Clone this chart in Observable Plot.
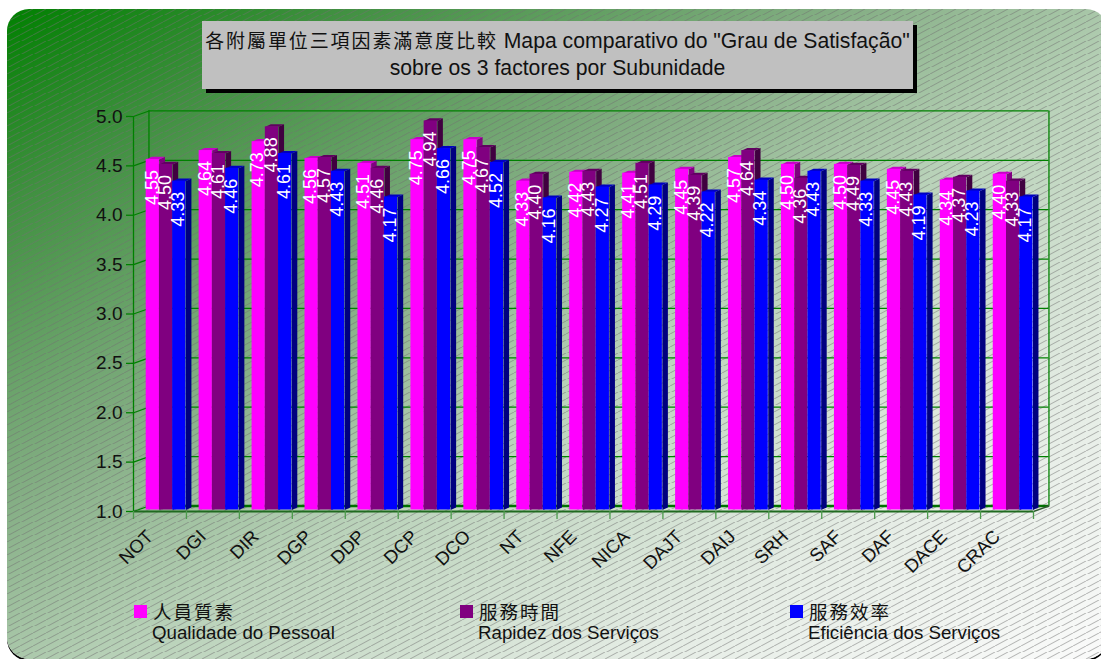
<!DOCTYPE html>
<html>
<head>
<meta charset="utf-8">
<script src="https://cdn.jsdelivr.net/npm/d3@7"></script>
<script src="https://cdn.jsdelivr.net/npm/@observablehq/plot@0.6"></script>
<style>
  html, body { margin: 0; padding: 0; background: #fff; }
  #stage { position: relative; width: 1101px; height: 659px; overflow: hidden; background: #fff;
           font-family: "Liberation Sans", Arial, sans-serif; color: #111; }
  #panel { position: absolute; left: 7px; top: 9px; width: 1101px; height: 650px; border-radius: 22px;
           box-shadow: 0 2px 0 #000;
           background:
             url("data:image/svg+xml,%3Csvg xmlns='http://www.w3.org/2000/svg' width='13' height='6.5'%3E%3Cg stroke='%23707070' stroke-opacity='.5' stroke-width='.95'%3E%3Cpath d='M0 6.5L13 0M13 6.5L26 0M-13 6.5L0 0'/%3E%3C/g%3E%3C/svg%3E") 0 0 / 13px 6.5px,
             linear-gradient(to bottom right, #008000 0%, #409040 15%, #84ae84 38%, #b9d2b9 55%, #e4ece4 78%, #fbfbfb 100%); }
  #chart { position: absolute; left: 0; top: 0; }
  #chart svg { display: block; background: transparent; }
  #title { position: absolute; left: 202px; top: 21px; width: 711px; height: 68px; background: #c0c0c0;
           box-shadow: 4px 4px 0 #000; text-align: center; font-size: 21.2px; line-height: 27px;
           padding-top: 5px; box-sizing: border-box; white-space: nowrap; }
  .cjk { font-family: "Noto Sans CJK TC", sans-serif; }
  #title .cjk { letter-spacing: 1.9px; font-size: 19px; }
  .key { position: absolute; top: 599px; }
  .key i { position: absolute; left: 0; top: 6px; width: 13px; height: 13px; }
  .key b { position: absolute; left: 19px; top: 0; font-weight: 400; font-size: 18.5px; letter-spacing: 2px; line-height: 24px; white-space: nowrap; }
  .key span { position: absolute; left: 18px; top: 23px; font-size: 18.7px; line-height: 22px; white-space: nowrap; }
</style>
</head>
<body>
<div id="stage">
  <div id="panel"></div>
  <div id="chart"></div>
  <div id="title"></div>
</div>
<script>
// Satisfaction scores per subunit, on the 1-5 survey scale
const units = ["NOT","DGI","DIR","DGP","DDP","DCP","DCO","NT","NFE","NICA","DAJT","DAIJ","SRH","SAF","DAF","DACE","CRAC"];
const staffQuality = [4.55,4.64,4.73,4.56,4.51,4.75,4.75,4.33,4.42,4.41,4.45,4.57,4.50,4.50,4.45,4.34,4.40];
const serviceSpeed = [4.50,4.61,4.88,4.57,4.46,4.94,4.67,4.40,4.43,4.51,4.39,4.64,4.36,4.49,4.43,4.37,4.33];
const serviceEfficiency = [4.33,4.46,4.61,4.43,4.17,4.66,4.52,4.16,4.27,4.29,4.22,4.34,4.43,4.33,4.19,4.23,4.17];
const yTicks = [1,1.5,2,2.5,3,3.5,4,4.5,5];

const titleCjk = "各附屬單位三項因素滿意度比較";
const titleLine1 = 'Mapa comparativo do "Grau de Satisfação"';
const titleLine2 = "sobre os 3 factores por Subunidade";

const seriesNames = ["人員質素","服務時間","服務效率"];
const seriesNotes = ["Qualidade do Pessoal","Rapidez dos Serviços","Eficiência dos Serviços"];
const seriesValues = [staffQuality, serviceSpeed, serviceEfficiency];
const frontColors = ["#ff00ff","#800080","#0000ff"];
const topColors = ["#c800c8","#600060","#0000c0"];
const sideColors = ["#800080","#400040","#000080"];
const keyLefts = [134, 460, 790];

// Box depth of the pseudo-3D chart, in scale units
const wallDepthX = 0.292, wallDepthY = 0.056;
const barDepthX = 0.104, barDepthY = 0.026;
const groupStart = 0.24, barWidth = 0.25;
const lift = -1.5;
const green = "#008000";

const xMax = units.length;

const rows = seriesValues.flatMap((vals, s) => vals.map((v, i) => ({
  s, i, v, x1: i + groupStart + s * barWidth, x2: i + groupStart + (s + 1) * barWidth
})));

const poly = (fn) => rows.flatMap((r, k) => fn(r).map(([x, y]) => ({ id: k, s: r.s, x, y })));
const tops = poly(r => [[r.x1, r.v], [r.x2, r.v], [r.x2 + barDepthX, r.v + barDepthY], [r.x1 + barDepthX, r.v + barDepthY], [r.x1, r.v]]);
const sides = poly(r => [[r.x2, 1], [r.x2, r.v], [r.x2 + barDepthX, r.v + barDepthY], [r.x2 + barDepthX, 1 + barDepthY], [r.x2, 1]]);

// Back wall grid plus the side-wall diagonals joining it to the front axis
const backGrid = Plot.ruleY(yTicks, {
  y: d => d + wallDepthY, x1: wallDepthX, x2: xMax + wallDepthX, stroke: green, strokeWidth: 1.2
});
const sideGrid = yTicks.map(t => Plot.line([[0, t], [wallDepthX, t + wallDepthY]], { stroke: green, strokeWidth: 1.2 }));

// Bars are painted left to right inside each group so neighbours overlap the same way
const barMarks = [];
for (let s = 0; s < 3; s++) {
  const f = d => d.s === s;
  barMarks.push(
    Plot.line(sides.filter(f), { x: "x", y: "y", z: "id", fill: sideColors[s], stroke: "none", dy: lift }),
    Plot.line(tops.filter(f), { x: "x", y: "y", z: "id", fill: topColors[s], stroke: "none", dy: lift }),
    Plot.rect(rows.filter(f), { x1: "x1", x2: "x2", y1: 1, y2: "v", fill: frontColors[s], dy: lift })
  );
}

const chart = Plot.plot({
  width: 1101,
  height: 659,
  marginLeft: 133,
  marginRight: 68,
  marginTop: 116,
  marginBottom: 148,
  style: { background: "transparent", fontFamily: "'Liberation Sans', Arial, sans-serif", overflow: "visible" },
  x: { domain: [0, xMax], axis: null },
  y: { domain: [1, 5], axis: null },
  marks: [
    backGrid,
    ...sideGrid,
    Plot.ruleX([wallDepthX, xMax + wallDepthX], { y1: 1 + wallDepthY, y2: 5 + wallDepthY, stroke: green, strokeWidth: 1.3 }),
    Plot.ruleY([1 + wallDepthY], { x1: wallDepthX, x2: xMax + wallDepthX, stroke: "#007000", strokeWidth: 2.4 }),
    Plot.line([[xMax, 1], [xMax + wallDepthX, 1 + wallDepthY]], { stroke: "#2f5a2f", strokeWidth: 1.4 }),
    Plot.ruleX([0], { y1: 1, y2: 5, stroke: green, strokeWidth: 1.3 }),
    ...barMarks,
    Plot.ruleY([1], { x1: 0, x2: xMax, stroke: "#1f6a1f", strokeWidth: 2 }),
    Plot.axisY({
      ticks: yTicks, tickFormat: d3.format(".1f"), tickSize: 7, tickPadding: 4,
      fontSize: 19, stroke: green, strokeWidth: 1.3, fill: "#111", label: null
    }),
    Plot.axisX({
      ticks: d3.range(xMax + 1), tickFormat: () => "", tickSize: 8,
      stroke: "#4c9a4c", strokeWidth: 1.3, label: null
    }),
    Plot.text(units, {
      x: (d, i) => i + 0.5, y: 1, text: d => d, rotate: -45, textAnchor: "end",
      dx: -10, dy: 22, fontSize: 18.5, fill: "#111"
    }),
    Plot.text(rows, {
      x: d => (d.x1 + d.x2) / 2, y: "v", text: d => d.v.toFixed(2), rotate: -90, textAnchor: "end",
      dx: -1, dy: 9, fontSize: 18, fill: "#fff"
    })
  ]
});
document.getElementById("chart").append(chart);

// Heading box
const title = document.getElementById("title");
const first = document.createElement("div");
const cjkSpan = document.createElement("span");
cjkSpan.className = "cjk";
cjkSpan.textContent = titleCjk;
first.append(cjkSpan, " " + titleLine1);
const second = document.createElement("div");
second.textContent = titleLine2;
title.append(first, second);

// Series key along the bottom
const stage = document.getElementById("stage");
seriesNames.forEach((name, k) => {
  const key = document.createElement("div");
  key.className = "key";
  key.style.left = keyLefts[k] + "px";
  const swatch = document.createElement("i");
  swatch.style.background = frontColors[k];
  const zh = document.createElement("b");
  zh.className = "cjk";
  zh.textContent = name;
  const pt = document.createElement("span");
  pt.textContent = seriesNotes[k];
  key.append(swatch, zh, pt);
  stage.append(key);
});
</script>
</body>
</html>
